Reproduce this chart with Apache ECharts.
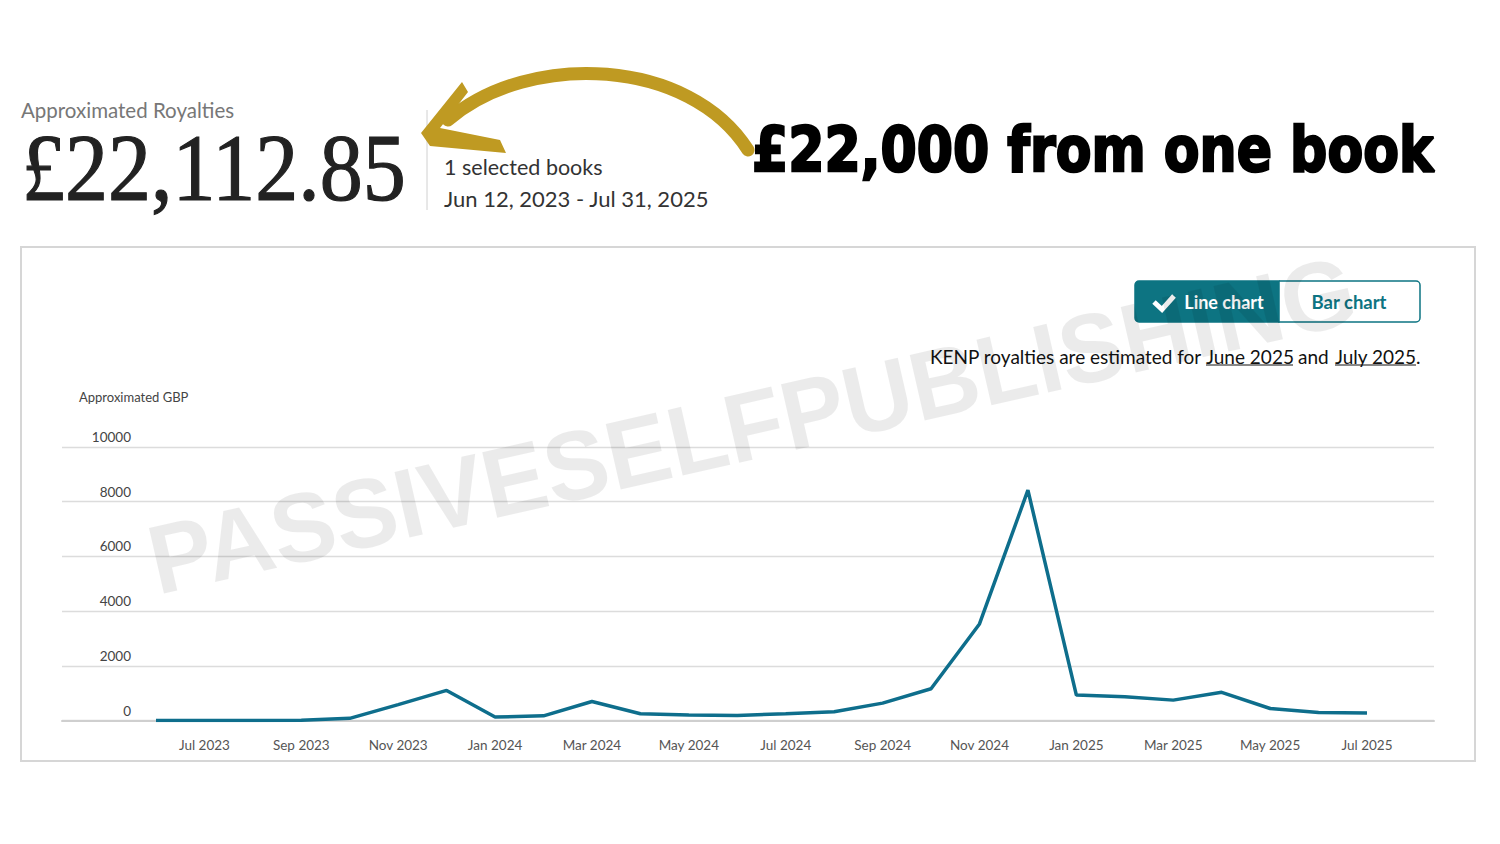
<!DOCTYPE html>
<html>
<head>
<meta charset="utf-8">
<script src="https://cdn.jsdelivr.net/npm/echarts@6/dist/echarts.min.js"></script>
<style>
html,body{margin:0;padding:0;background:#fff;}
#chart{width:1500px;height:844px;}
</style>
</head>
<body>
<div id="chart"></div>
<script>
// ---- Data ----
const months = ['Jun 2023','Jul 2023','Aug 2023','Sep 2023','Oct 2023','Nov 2023','Dec 2023',
  'Jan 2024','Feb 2024','Mar 2024','Apr 2024','May 2024','Jun 2024','Jul 2024','Aug 2024',
  'Sep 2024','Oct 2024','Nov 2024','Dec 2024','Jan 2025','Feb 2025','Mar 2025','Apr 2025',
  'May 2025','Jun 2025','Jul 2025'];
const royaltiesGBP = [0, 0, 0, 10, 80, 580, 1100, 125, 170, 695, 245, 200, 185, 245, 320,
  635, 1160, 3530, 8420, 930, 870, 745, 1030, 440, 295, 270];
const yTicks = { min: 0, max: 10000, interval: 2000 };

const totalText = '£22,112.85';
const headline = '£22,000 from one book';

const chart = echarts.init(document.getElementById('chart'), null, { renderer: 'svg' });
const UI = 'Lato, "Noto Sans", sans-serif';
const teal = '#0d7482';

const option = {
  backgroundColor: '#ffffff',
  animation: false,
  grid: [
    { left: 62, right: 66, top: 447, bottom: 123.5 },
    { left: 156, right: 133, top: 447, bottom: 123.5 }
  ],
  xAxis: [
    { gridIndex: 0, type: 'value', min: 0, max: 1,
      axisLine: { show: true, lineStyle: { color: '#cfcfcf', width: 2 } },
      axisTick: { show: false }, axisLabel: { show: false }, splitLine: { show: false } },
    { gridIndex: 1, type: 'category', data: months, boundaryGap: false,
      axisLine: { show: false }, axisTick: { show: false },
      axisLabel: { interval: function (i) { return i % 2 === 1; }, margin: 17,
        color: '#555', fontSize: 13.5, fontFamily: UI } }
  ],
  yAxis: [
    { gridIndex: 0, type: 'value', min: yTicks.min, max: yTicks.max, interval: yTicks.interval,
      name: 'Approximated GBP', nameLocation: 'end', nameGap: 44,
      nameTextStyle: { align: 'left', padding: [0, 0, 0, 17], color: '#444', fontSize: 13, fontFamily: UI },
      axisLine: { show: false }, axisTick: { show: false },
      axisLabel: { inside: true, align: 'right', margin: 69, verticalAlign: 'bottom',
        padding: [0, 0, 3, 0], color: '#444', fontSize: 13.5, fontFamily: UI,
        formatter: function (v) { return String(v); } },
      splitLine: { lineStyle: { color: '#dcdcdc', width: 1.3 } } },
    { gridIndex: 1, type: 'value', min: yTicks.min, max: yTicks.max, interval: yTicks.interval, show: false,
      splitLine: { show: false } }
  ],
  series: [{
    type: 'line', xAxisIndex: 1, yAxisIndex: 1, data: royaltiesGBP,
    symbol: 'none', lineStyle: { color: '#0e6e8c', width: 3.5 }, z: 5
  }],
  graphic: [
    // panel border
    { type: 'rect', shape: { x: 21, y: 247, width: 1454, height: 514 },
      style: { fill: null, stroke: '#d6d6d6', lineWidth: 2 }, z: 0 },
    // header
    { type: 'text', x: 21, y: 110, style: { text: 'Approximated Royalties', font: '20.5px ' + UI,
      fill: '#777', align: 'left', verticalAlign: 'middle' } },
    { type: 'text', x: 22, y: 168, scaleX: 0.905, style: { text: totalText,
      font: '95px "Liberation Serif", serif', fill: '#222', stroke: '#222', lineWidth: 1.2,
      align: 'left', verticalAlign: 'middle' } },
    { type: 'line', shape: { x1: 427, y1: 110, x2: 427, y2: 210 }, style: { stroke: '#d0d0d0', lineWidth: 1 } },
    { type: 'text', x: 444, y: 167, style: { text: '1 selected books', font: '21.5px ' + UI,
      fill: '#333', align: 'left', verticalAlign: 'middle' } },
    { type: 'text', x: 444, y: 198, style: { text: 'Jun 12, 2023 - Jul 31, 2025', font: '22px ' + UI,
      fill: '#333', align: 'left', verticalAlign: 'middle' } },
    // arrow
    { type: 'bezierCurve', shape: { x1: 748, y1: 150, cpx1: 690, cpy1: 58, cpx2: 530, cpy2: 50, x2: 448, y2: 120 },
      style: { stroke: '#bf9a22', lineWidth: 13, fill: null, lineCap: 'round' } },
    { type: 'polygon', shape: { points: [[462, 82], [468, 92], [440, 128], [500, 140], [506, 153], [430, 146], [421, 133]] },
      style: { fill: '#bf9a22' } },
    // headline
    { type: 'text', x: 752, y: 150, scaleX: 0.84, style: { text: headline,
      font: '900 62px "DejaVu Sans", sans-serif', fill: '#000', stroke: '#000', lineWidth: 2.5,
      align: 'left', verticalAlign: 'middle' } },
    // buttons
    { type: 'rect', shape: { x: 1135, y: 281, width: 144, height: 41, r: [4, 0, 0, 4] },
      style: { fill: teal, stroke: teal, lineWidth: 1.5 } },
    { type: 'rect', shape: { x: 1279, y: 281, width: 141, height: 41, r: [0, 4, 4, 0] },
      style: { fill: '#fff', stroke: teal, lineWidth: 1.5 } },
    { type: 'polyline', shape: { points: [[1154, 302], [1162, 309.5], [1174, 296]] },
      style: { stroke: '#fff', lineWidth: 5, fill: null } },
    { type: 'text', x: 1224, y: 302, style: { text: 'Line chart', font: 'bold 18px ' + UI,
      fill: '#fff', align: 'center', verticalAlign: 'middle' } },
    { type: 'text', x: 1349, y: 302, style: { text: 'Bar chart', font: 'bold 18.5px ' + UI,
      fill: teal, align: 'center', verticalAlign: 'middle' } },
    // KENP note
    { type: 'text', x: 930, y: 356, style: { text: 'KENP royalties are estimated for', font: '19px ' + UI,
      fill: '#111', align: 'left', verticalAlign: 'middle' } },
    { type: 'text', x: 1206, y: 356, style: { text: 'June 2025', font: '19px ' + UI,
      fill: '#111', align: 'left', verticalAlign: 'middle' } },
    { type: 'line', shape: { x1: 1206, y1: 365, x2: 1293, y2: 365 }, style: { stroke: '#111', lineWidth: 1 } },
    { type: 'text', x: 1298, y: 356, style: { text: 'and', font: '19px ' + UI,
      fill: '#111', align: 'left', verticalAlign: 'middle' } },
    { type: 'text', x: 1335, y: 356, style: { text: 'July 2025', font: '19px ' + UI,
      fill: '#111', align: 'left', verticalAlign: 'middle' } },
    { type: 'line', shape: { x1: 1335, y1: 365, x2: 1416, y2: 365 }, style: { stroke: '#111', lineWidth: 1 } },
    { type: 'text', x: 1416, y: 356, style: { text: '.', font: '19px ' + UI,
      fill: '#111', align: 'left', verticalAlign: 'middle' } },
    // watermark
    { type: 'text', x: 752, y: 425, rotation: 12.8 * Math.PI / 180, scaleX: 0.97, z: 100,
      style: { text: 'PASSIVESELFPUBLISHING', font: 'bold 98px "Liberation Sans", sans-serif',
        fill: 'rgba(0,0,0,0.08)', align: 'center', verticalAlign: 'middle' } }
  ]
};
chart.setOption(option);
</script>
</body>
</html>
